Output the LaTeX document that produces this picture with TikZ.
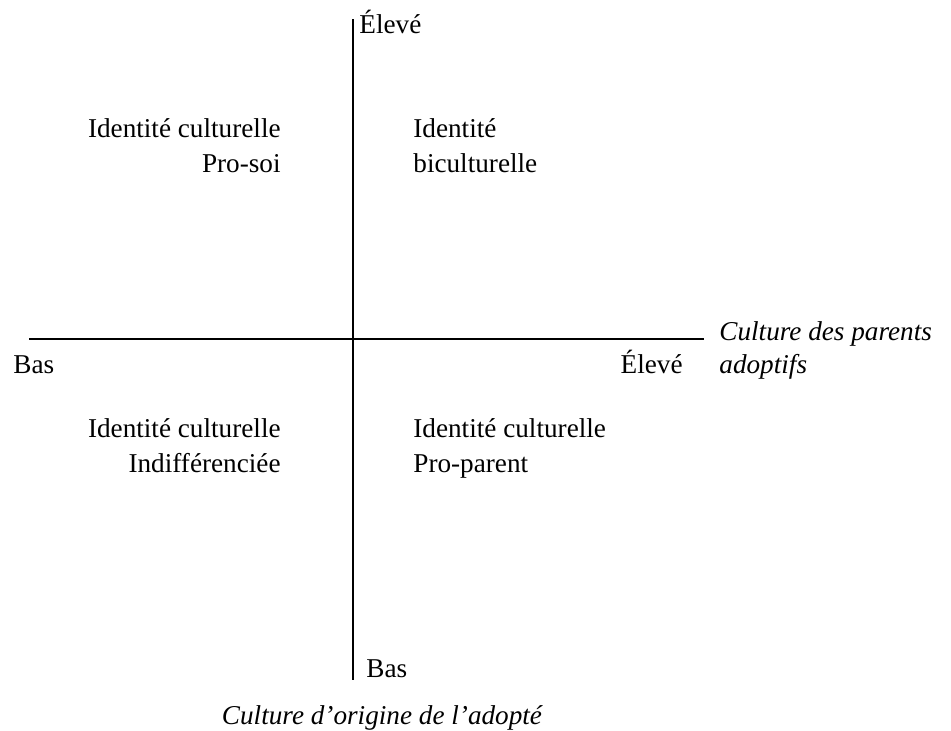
\documentclass[tikz,border=0pt]{standalone}
\usepackage{fontspec}
\setmainfont{Liberation Serif}
\usetikzlibrary{positioning}

\tikzset{
  lbl/.style={inner sep=0pt, font=\fontsize{13.6}{17.5}\selectfont},
  ital/.style={lbl, font=\fontsize{13.6}{16.5}\selectfont\itshape},
  axe/.style={line width=1pt},
}

\begin{document}
\begin{tikzpicture}[x=0.5pt, y=-0.5pt]
  \useasboundingbox (0,0) rectangle (951,730);
  % Axes
  \coordinate (vtop) at (353,19) ; %
  \coordinate (vbot) at (353,680) ; %
  \coordinate (hleft) at (29,339) ; %
  \coordinate (hright) at (704,339) ; %
  \draw[axe] (vtop) -- (vbot) ; %
  \draw[axe] (hleft) -- (hright) ; %
  % Nodes
  \node[lbl, anchor=base west] (hautV) at (359,33) {Élevé} ; %
  \node[lbl, anchor=base west] (basV) at (366,677) {Bas} ; %
  \node[lbl, anchor=base west] (basH) at (13,373) {Bas} ; %
  \node[lbl, anchor=base east] (hautH) at (683,373) {Élevé} ; %
  \node[ital, anchor=north west, align=left] (parents) at (719,321) {Culture des parents\\adoptifs} ; %
  \node[ital, anchor=base] (origine) at (382,724) {Culture d’origine de l’adopté} ; %
  % Quadrants
  \node[lbl, anchor=north east, align=right] (prosoi) at (281,118) {Identité culturelle\\Pro-soi} ; %
  \node[lbl, anchor=north west, align=left] (bicult) at (413,118) {Identité\\biculturelle} ; %
  \node[lbl, anchor=north east, align=right] (indiff) at (281,418) {Identité culturelle\\Indifférenciée} ; %
  \node[lbl, anchor=north west, align=left] (proparent) at (413,418) {Identité culturelle\\Pro-parent} ; %
\end{tikzpicture}
\end{document}
